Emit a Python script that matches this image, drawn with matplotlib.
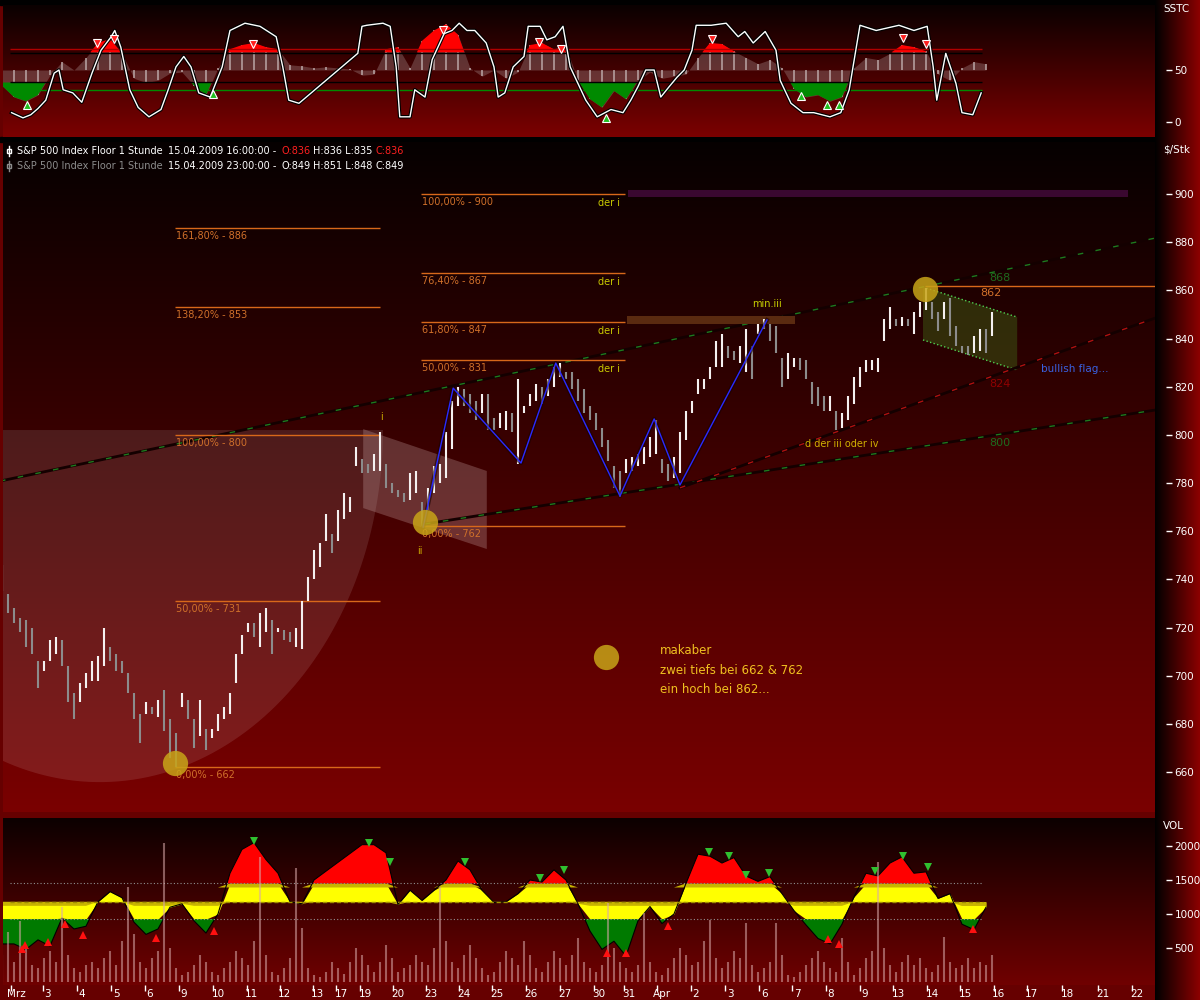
import numpy as np
import matplotlib.pyplot as plt
from matplotlib.colors import LinearSegmentedColormap
from matplotlib.patches import Polygon, Rectangle
from matplotlib.lines import Line2D

plt.rcParams['font.family'] = ['DejaVu Sans']

# hourly bars (x = bar number)
lows = [735, 726, 722, 718, 712, 709, 695, 702, 706, 709, 704, 689, 682, 689, 695, 698, 698, 704, 706, 702,
        701, 693, 682, 672, 684, 684, 683, 677, 666, 662, 687, 682, 670, 675, 669, 674, 677, 682, 684, 697,
        709, 718, 716, 712, 718, 709, 718, 715, 714, 712, 711, 731, 740, 745, 756, 751, 756, 765, 768, 787,
        784, 784, 785, 785, 778, 776, 774, 772, 773, 776, 762, 769, 776, 780, 782, 794, 812, 812, 809, 806,
        809, 802, 802, 803, 802, 801, 788, 809, 812, 814, 813, 816, 820, 824, 823, 819, 814, 809, 806, 802,
        795, 789, 778, 774, 784, 785, 787, 788, 791, 792, 784, 781, 782, 784, 798, 809, 817, 819, 823, 828,
        828, 832, 831, 830, 826, 823, 842, 844, 839, 834, 820, 823, 828, 827, 823, 813, 812, 810, 810, 802,
        803, 806, 813, 820, 826, 827, 826, 839, 844, 845, 845, 845, 842, 849, 852, 848, 843, 848, 841, 837,
        834, 833, 834, 835, 834, 841]
highs = [746, 734, 728, 724, 723, 720, 706, 706, 715, 716, 715, 704, 693, 697, 701, 706, 708, 720, 712, 709,
         706, 701, 693, 684, 689, 687, 690, 694, 682, 676, 693, 690, 682, 690, 678, 678, 684, 687, 693, 709,
         717, 722, 722, 726, 728, 723, 720, 719, 718, 720, 731, 741, 752, 755, 767, 759, 769, 776, 774, 795,
         790, 788, 792, 801, 788, 780, 777, 776, 784, 785, 772, 778, 787, 788, 801, 814, 820, 819, 817, 814,
         817, 817, 807, 809, 810, 809, 823, 812, 817, 821, 820, 823, 828, 830, 826, 826, 823, 819, 812, 809,
         803, 798, 787, 785, 790, 791, 792, 795, 799, 806, 790, 788, 791, 801, 810, 814, 823, 823, 828, 839,
         842, 837, 835, 837, 844, 837, 846, 848, 846, 845, 832, 834, 832, 832, 831, 822, 820, 816, 816, 810,
         809, 816, 824, 828, 831, 831, 832, 848, 853, 848, 849, 848, 851, 855, 861, 855, 851, 855, 857, 845,
         837, 837, 841, 844, 844, 851]

day_pos = [1.5, 6.8, 12.5, 18.2, 23.8, 29.5, 35.2, 40.8, 46.3, 51.8, 55.7, 59.7, 65.2, 70.7, 76.2, 81.7,
           87.3, 93.0, 98.7, 103.7, 109.2, 114.8, 120.5, 126.2, 131.7, 137.3, 143.0, 148.5, 154.2, 159.7,
           165.3, 170.8, 176.7, 182.7, 188.3]
day_labels = ['Mrz', '3', '4', '5', '6', '9', '10', '11', '12', '13', '17', '19', '20', '23', '24', '25',
              '26', '27', '30', '31', 'Apr', '2', '3', '6', '7', '8', '9', '13', '14', '15', '16', '17',
              '18', '21', '22']

# SSTC panel: histogram (every 2nd bar) and the oscillator line
hist = [35, 24, 20, 26, 45, 58, 50, 62, 76, 80, 66, 42, 38, 40, 47, 48, 35, 26, 52, 70,
        74, 76, 72, 70, 55, 54, 52, 53, 52, 51, 45, 46, 70, 72, 52, 78, 88, 94, 84, 52,
        44, 50, 42, 48, 74, 76, 70, 72, 40, 22, 14, 30, 22, 40, 48, 42, 44, 46, 62, 76,
        75, 68, 62, 56, 60, 52, 32, 24, 26, 20, 24, 52, 62, 60, 66, 74, 72, 68, 46, 40,
        52, 58, 56]
sstc_x = [1.6, 3.5, 4.8, 6, 7.3, 8.7, 9.5, 10.2, 11.8, 13.3, 15, 16.5, 18.2, 18.8, 19.8, 21.3, 22.7, 24.5,
          26.5, 27.7, 29, 30.3, 31.5, 32.8, 34.7, 36.7, 38, 40.5, 43, 45.7, 46.8, 47.8, 49.5, 59.3, 60,
          60.8, 63.5, 64.7, 65.7, 66.3, 68, 68.8, 70.5, 71.7, 73.7, 75, 76.2, 77.5, 78.8, 80.7, 82, 82.7,
          83.8, 85.2, 87, 87.7, 89.7, 90.8, 92.2, 93.5, 94.7, 96, 97.3, 99.2, 101.5, 103.5, 104.8, 106,
          107.3, 108.7, 109.8, 111.2, 112.5, 113.7, 115, 115.7, 118.2, 120.7, 122.7, 123.8, 125.2, 127.2,
          129, 129.7, 131.5, 133.5, 135.3, 138, 139.8, 141.2, 143, 145.7, 149.5, 152, 154.2, 155.2, 155.8,
          157.3, 159, 160, 161.8, 163.2]
sstc_v = [9, 4, 7, 13, 21, 47, 50, 31, 28, 19, 47, 69, 82, 88, 72, 31, 14, 5,
          12, 31, 53, 63, 53, 28, 24, 53, 88, 95, 92, 82, 53, 21, 18, 66, 92,
          93, 95, 92, 53, 5, 5, 31, 24, 60, 85, 88, 95, 88, 88, 76, 53, 24,
          28, 53, 63, 92, 92, 79, 82, 92, 53, 37, 21, 5, 12, 9, 21, 34,
          50, 50, 24, 34, 43, 50, 69, 93, 93, 95, 82, 87, 76, 87,
          69, 40, 18, 9, 9, 5, 9, 31, 93, 88, 93, 88, 92, 53, 21,
          66, 37, 9, 7, 28]
sig_dn_x = [15.8, 18.7, 41.8, 73.5, 89.5, 93.2, 118.3, 150.2, 154]
sig_dn_v = [76, 80, 75, 88, 77, 70, 80, 81, 75]
sig_up_x = [4.2, 35.2, 100.7, 133.2, 137.5, 139.5]
sig_up_v = [16, 27, 4, 25, 16, 16]

# volume panel
vol = [400, 735, 300, 900, 500, 250, 200, 350, 450, 300, 1100, 400,
       200, 150, 250, 300, 200, 350, 450, 250, 600, 1400, 700, 300,
       200, 350, 450, 2040, 500, 200, 100, 150, 250, 400, 300, 150,
       100, 200, 300, 450, 350, 250, 600, 1840, 400, 150, 100, 200,
       350, 1680, 800, 200, 100, 80, 150, 300, 200, 120, 300, 500,
       400, 250, 150, 300, 550, 350, 150, 200, 250, 400, 300, 250,
       500, 1400, 600, 300, 200, 400, 550, 350, 200, 100, 150, 300,
       450, 350, 250, 600, 400, 200, 150, 300, 450, 350, 250, 400,
       650, 300, 200, 150, 250, 1160, 500, 300, 200, 150, 250, 1010,
       300, 150, 100, 200, 350, 500, 400, 250, 300, 600, 910, 350,
       200, 300, 450, 350, 870, 250, 150, 200, 300, 870, 400, 100,
       80, 150, 250, 350, 450, 300, 200, 150, 650, 300, 100, 200,
       350, 450, 1760, 500, 250, 150, 300, 400, 250, 350, 200, 150,
       250, 660, 300, 200, 250, 350, 200, 300, 250, 400]
vol_avg = [560, 560, 480, 620, 530, 940, 780, 820, 1180, 1330,
           1240, 880, 700, 780, 1100, 1150, 900, 720, 1000, 1600,
           1950, 2050, 1800, 1600, 1180, 1150, 1500, 1630, 1760, 1890,
           2020, 2020, 1900, 1140, 1350, 1200, 1350, 1500, 1780, 1650,
           1350, 1170, 1180, 1300, 1500, 1470, 1650, 1500, 1150, 750,
           480, 600, 380, 900, 1110, 860, 1000, 1450, 1880, 1850,
           1750, 1830, 1560, 1480, 1550, 1300, 1050, 840, 640, 560,
           850, 1250, 1600, 1560, 1750, 1840, 1600, 1620, 1230, 1300,
           850, 770, 1100]
vsig_dn_x = [42, 61.2, 64.7, 77.2, 89.7, 93.7, 117.8, 121.2, 124, 127.8, 145.5, 150.2, 154.3]
vsig_dn_v = [2070, 2040, 1770, 1770, 1535, 1650, 1910, 1850, 1570, 1600, 1630, 1850, 1690]
vsig_up_x = [3.3, 3.8, 7.7, 10.5, 13.5, 25.7, 35.3, 100.8, 104, 111, 137.7, 139.5, 161.8]
vsig_up_v = [480, 545, 595, 855, 685, 645, 745, 420, 430, 830, 630, 555, 775]

# fibonacci sets
fib_a = [886, 853, 800, 731, 662]
fib_a_txt = ['161,80% - 886', '138,20% - 853', '100,00% - 800', '50,00% - 731', '0,00% - 662']
fib_b = [900, 867, 847, 831, 762]
fib_b_txt = ['100,00% - 900', '76,40% - 867', '61,80% - 847', '50,00% - 831', '0,00% - 762']

wave_x = [70.2, 75.2, 86.5, 92.3, 103, 108.7, 113, 127.5]
wave_y = [761.7, 819.4, 788.3, 829.8, 774.6, 806.6, 779.2, 847.7]
dots_x = [28.8, 70.5, 153.8, 100.7]
dots_y = [663.7, 763.8, 860.5, 707.7]


def px(x):
    return x / 1200


def py(y):
    return 1 - y / 1000


def gradient(ax, top, bottom, horizontal=False):
    cm = LinearSegmentedColormap.from_list('g', [bottom, top])
    g = np.linspace(0, 1, 256)
    g = g.reshape(1, -1) if horizontal else g.reshape(-1, 1)
    ax.imshow(g, cmap=cm, aspect='auto', extent=[0, 1, 0, 1], origin='lower',
              transform=ax.transAxes, zorder=0, interpolation='bilinear')


def right_axis(ax, ticks):
    for s in ax.spines.values():
        s.set_visible(False)
    ax.spines['right'].set_position(('outward', 8))
    ax.yaxis.tick_right()
    ax.set_yticks(ticks)
    ax.tick_params(axis='y', length=4, width=1, colors='white', labelsize=7.5, pad=2)
    ax.set_xticks([])


fig = plt.figure(figsize=(12, 10), dpi=100, facecolor='#660000')

strip = fig.add_axes([px(1155), 0, px(45), 1])
strip.set_zorder(-1)
gradient(strip, '#8c0000', '#000000', horizontal=True)
strip.axis('off')
# black gaps above the SSTC panel and between SSTC and price panel
fig.patches.append(Rectangle((0, py(142)), px(1155), 5 / 1000, transform=fig.transFigure,
                             color='black', zorder=-2))
fig.patches.append(Rectangle((0, py(5)), px(1155), 5 / 1000, transform=fig.transFigure,
                             color='black', zorder=-2))

XL = (0.17, 192.17)

# ---------------- SSTC panel ----------------
ax1 = fig.add_axes([px(3), py(137), px(1152), 132 / 1000])
gradient(ax1, '#0a0000', '#7c0000')
hx = np.arange(len(hist)) * 2
h = np.array(hist)
ax1.fill_between(hx, 50, h, color='#a89090', alpha=0.35, lw=0, zorder=1)
ax1.vlines(hx, 50, h, color='#c8b8b8', lw=1.2, alpha=0.8, zorder=1)
ax1.fill_between(hx, 67, h, where=h > 67, interpolate=True, color='#ff0000', lw=0, zorder=2)
ax1.fill_between(hx, 38, h, where=h < 38, interpolate=True, color='#008a00', lw=0, zorder=2)
ax1.hlines([70], 1.3, 163.3, color='#b00000', lw=1, zorder=3)
ax1.hlines([66, 38], 1.3, 163.3, color='#000000', lw=1, zorder=3)
ax1.hlines([31], 1.3, 163.3, color='#008a00', lw=1, zorder=3)
ax1.plot(sstc_x, sstc_v, color='black', lw=2.6, zorder=4)
ax1.plot(sstc_x, sstc_v, color='white', lw=1, zorder=5)
ax1.plot(sig_dn_x, sig_dn_v, 'v', color='#ff2020', mec='white', mew=0.8, ms=6, zorder=6)
ax1.plot(sig_up_x, sig_up_v, '^', color='#20c020', mec='white', mew=0.8, ms=6, zorder=6)
ax1.set_xlim(XL)
ax1.set_ylim(-14.4, 112.5)
right_axis(ax1, [0, 50])

# ---------------- price panel ----------------
ax = fig.add_axes([px(3), py(812), px(1152), 670 / 1000])
gradient(ax, '#060000', '#7a0000')

t = np.linspace(np.pi, 2 * np.pi, 120)
ax.add_patch(Polygon(np.column_stack([16.3 + 47.2 * np.cos(t), 802 + 146.2 * np.sin(t)]),
                     closed=True, fc='white', alpha=0.11, lw=0, zorder=1))
ax.add_patch(Polygon([(60.2, 802.4), (80.8, 785), (80.8, 752.6), (60.2, 769.6)],
                     closed=True, fc='#d0b0b0', alpha=0.28, lw=0, zorder=1))
flag = [(153.5, 861.4), (169.2, 848.9), (169.2, 826.9), (153.5, 839.4)]
ax.add_patch(Polygon(flag, closed=True, fc='#3a4a10', alpha=0.6, lw=0, zorder=1))
ax.plot([flag[0][0], flag[1][0]], [flag[0][1], flag[1][1]], ':', color='#50d050', lw=1, zorder=2)
ax.plot([flag[3][0], flag[2][0]], [flag[3][1], flag[2][1]], ':', color='#50d050', lw=1, zorder=2)

# trendlines
for (x0, y0, x1, y1, c) in [(-0.33, 780.8, 192.2, 881.7, '#1e7a1e'),
                            (70.5, 763.0, 192.2, 810.3, '#1e7a1e'),
                            (113.0, 778.0, 192.2, 848.5, '#b01010')]:
    ax.plot([x0, x1], [y0, y1], color='#140000', lw=2, zorder=2)
    ax.plot([x0, x1], [y0, y1], color=c, lw=1, dashes=(4, 9), zorder=2)

# bars at 900 and 847
ax.fill_between([104.3, 187.7], 898.8, 901.7, color='#3a0830', lw=0, zorder=2)
ax.fill_between([104.2, 132.2], 846.0, 849.2, color='#5a2a10', lw=0, zorder=2)

fib_c = '#d8681a'
ax.hlines(fib_a, 28.8, 63.0, color=fib_c, lw=1, zorder=2)
for lv, s in zip(fib_a, fib_a_txt):
    ax.annotate(s, (28.8, lv), xytext=(1, -3), textcoords='offset pixels', ha='left', va='top',
                color='#d0702a', fontsize=7)
ax.hlines(fib_b, 69.8, 103.8, color=fib_c, lw=1, zorder=2)
for lv, s in zip(fib_b, fib_b_txt):
    ax.annotate(s, (69.8, lv), xytext=(1, -3), textcoords='offset pixels', ha='left', va='top',
                color='#d0702a', fontsize=7)
for lv in fib_b[:4]:
    ax.annotate('der i', (101.2, lv), xytext=(0, -4), textcoords='offset pixels', ha='center',
                va='top', color='#c8c800', fontsize=7)
ax.hlines([862], 153.8, 192.2, color=fib_c, lw=1, zorder=2)
ax.text(164.8, 858.9, '862', color='#d0702a', fontsize=8, ha='center', va='center')
ax.text(166.3, 865.1, '868', color='#1e6a1e', fontsize=8, ha='center', va='center')
ax.text(166.3, 821.1, '824', color='#900000', fontsize=8, ha='center', va='center')
ax.text(166.3, 796.6, '800', color='#1e6a1e', fontsize=8, ha='center', va='center')

# price bars
lo = np.array(lows)
hi = np.array(highs)
bx = np.arange(len(lo))
mid = (lo + hi) / 2
up = np.r_[True, mid[1:] >= mid[:-1]]
ax.vlines(bx[up], lo[up], hi[up], color='#f4f0f0', lw=1.5, zorder=3)
ax.vlines(bx[~up], lo[~up], hi[~up], color='#8c8c8c', lw=1.5, zorder=3)

ax.plot(wave_x, wave_y, color='#1a0000', lw=3, alpha=0.6, zorder=4)
ax.plot(wave_x, wave_y, color='#2a2aff', lw=1, zorder=4)
ax.scatter(dots_x, dots_y, s=330, color='#c8a418', alpha=0.85, lw=0, zorder=5)

ax.text(63.2, 807.4, 'i', color='#c8a800', fontsize=7, ha='center', va='center')
ax.text(69.7, 751.7, 'ii', color='#c8a800', fontsize=7, ha='center', va='center')
ax.text(127.5, 854.3, 'min.iii', color='#c8d000', fontsize=7, ha='center', va='center')
ax.text(140, 796.2, 'd der iii oder iv', color='#d0b000', fontsize=7, ha='center', va='center')
ax.text(173.2, 827.3, 'bullish flag...', color='#3a60e0', fontsize=7.5, ha='left', va='center')
ax.text(109.7, 713.1, 'makaber\nzwei tiefs bei 662 & 762\nein hoch bei 862...', color='#f0c020',
        fontsize=8.5, ha='left', va='top', linespacing=1.65)

ax.set_xlim(XL)
ax.set_ylim(643.4, 921.6)
right_axis(ax, list(range(660, 901, 20)))

# ---------------- volume panel ----------------
ax3 = fig.add_axes([px(3), py(985), px(1152), 167 / 1000])
gradient(ax3, '#0c0000', '#700000')
vx = np.arange(len(vol_avg)) * 2
va = np.array(vol_avg)
ax3.fill_between(vx, 1180, np.clip(va, 925, 1450), color='#ffff00', lw=0, zorder=1)
ax3.fill_between(vx, 1390, np.clip(va, 1390, 1450), where=va > 1390, interpolate=True,
                 color='#c8b400', lw=0, zorder=1)
ax3.fill_between(vx, 1180, np.clip(va, 1120, 1180), where=va < 1180, interpolate=True,
                 color='#c8b400', lw=0, zorder=1)
ax3.fill_between(vx, 1450, va, where=va > 1450, interpolate=True, color='#ff0000', lw=0, zorder=1)
ax3.fill_between(vx, 925, va, where=va < 925, interpolate=True, color='#007a00', lw=0, zorder=1)
ax3.plot(vx, va, color='black', lw=0.8, zorder=2)
ax3.hlines([1450, 925], 1.3, 163.5, color='#909090', lw=0.8, linestyles=(0, (1, 2)), zorder=2)
ax3.hlines([1180], 1.3, 163.5, color='#a09000', lw=1, linestyles=(0, (3, 2)), zorder=2)
ax3.vlines(np.arange(len(vol)), 0, vol, color='#d8a8a8', lw=1.5, alpha=0.55, zorder=3)
ax3.plot(vsig_dn_x, vsig_dn_v, 'v', color='#30c030', ms=6, mew=0, zorder=4)
ax3.plot(vsig_up_x, vsig_up_v, '^', color='#ff1010', ms=6, mew=0, zorder=4)
ax3.set_xlim(XL)
ax3.set_ylim(-44, 2412)
right_axis(ax3, [500, 1000, 1500, 2000])
ax3.set_xticks(day_pos)
ax3.set_xticklabels([])
ax3.tick_params(axis='x', length=4, width=1, colors='white', direction='out')
for d, s in zip(day_pos, day_labels):
    ax3.annotate(s, (d, 0), xycoords=('data', 'axes fraction'), xytext=(5, -9),
                 textcoords='offset pixels', ha='center', va='center', color='white', fontsize=7.5)

# header and axis titles
fig.text(px(1163), py(9), 'SSTC', color='white', fontsize=7.5, va='center')
fig.text(px(1163), py(150), '$/Stk', color='white', fontsize=7.5, va='center')
fig.text(px(1163), py(826), 'VOL', color='white', fontsize=7.5, va='center')
for yy, c0, parts in [(151, 'white', [('O:836', '#ff2020'), ('H:836 L:835', 'white'), ('C:836', '#ff2020')]),
                      (166, '#8c8c8c', [('O:849', 'white'), ('H:851 L:848', 'white'), ('C:849', 'white')])]:
    fig.add_artist(Line2D([px(9), px(9)], [py(yy - 5), py(yy + 5)], color=c0, lw=1))
    fig.add_artist(Rectangle((px(7), py(yy + 2)), px(4), 4 / 1000, ec=c0, fc='none', lw=1))
    fig.text(px(17), py(yy), 'S&P 500 Index Floor 1 Stunde', color=c0, fontsize=7, va='center')
    fig.text(px(168), py(yy), '15.04.2009 ' + ('16' if yy == 151 else '23') + ':00:00 -',
             color='white', fontsize=7, va='center')
    for xx, (s, c) in zip([282, 313, 376], parts):
        fig.text(px(xx), py(yy), s, color=c, fontsize=7, va='center')

fig.savefig('out.png', dpi=100, facecolor=fig.get_facecolor())
